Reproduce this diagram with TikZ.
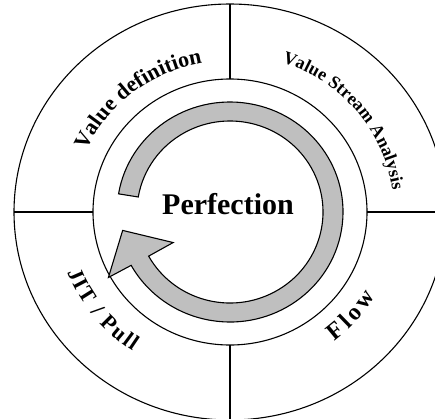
\documentclass[tikz,border=0pt]{standalone}
\usepackage{fontspec}
\setmainfont{Liberation Serif}
\usetikzlibrary{decorations.text}

\newcommand\vdfont{\bfseries\fontsize{22pt}{22pt}\selectfont}
\newcommand\vsafont{\bfseries\fontsize{18pt}{18pt}\selectfont}
\newcommand\jitfont{\bfseries\fontsize{22pt}{22pt}\selectfont}
\newcommand\flowfont{\bfseries\fontsize{24pt}{24pt}\selectfont}

\tikzset{
  ring/.style={line width=1.1pt},
  band/.style={fill=black!25, draw=black, line width=1.1pt, line join=miter},
  ringtext/.style 2 args={decorate, decoration={text along path, text align={fit to path},
      text={|#1|#2}}}
}

\begin{document}
\begin{tikzpicture}[x=1pt, y=1pt]
\useasboundingbox (0,0) rectangle (435,-418);
\clip (0,0) rectangle (435,-418);
\coordinate (C) at (230,-212);

\begin{scope}[shift={(C)}]
% rings and dividers
\draw[ring] (0,0) ellipse[x radius=216, y radius=208];
\draw[ring] (0,0) ellipse[x radius=137, y radius=133];
\foreach \a in {0,90,180,270} {
  \draw[ring] (\a:137 and 133) -- (\a:216 and 208);
}

% cycle arrow
\filldraw[band] (170.5:113 and 110) arc[start angle=170.5, end angle=-151, x radius=113, y radius=110]
  -- (-151:139 and 135) -- (190:109 and 106) -- (-151:65 and 63)
  -- (-151:93 and 91) arc[start angle=-151, end angle=170.5, x radius=93, y radius=91] -- cycle;

\node[font=\bfseries\fontsize{30}{30}\selectfont] (perf) at (-2,8) {Perfection};

% ring labels
\path[ringtext={\vdfont}{Value definition}] (156:157 and 151.5) arc[start angle=156, end angle=101, x radius=157, y radius=151.5];
\path[ringtext={\vsafont}{Value Stream Analysis}] (71.5:164 and 158) arc[start angle=71.5, end angle=8, x radius=164, y radius=158];
\path[ringtext={\jitfont}{JIT / Pull}] (201:174 and 168) arc[start angle=201, end angle=236, x radius=174, y radius=168];
\path[ringtext={\flowfont}{Flow}] (-52:170 and 164) arc[start angle=-52, end angle=-31, x radius=170, y radius=164];
\end{scope}
\end{tikzpicture}
\end{document}
